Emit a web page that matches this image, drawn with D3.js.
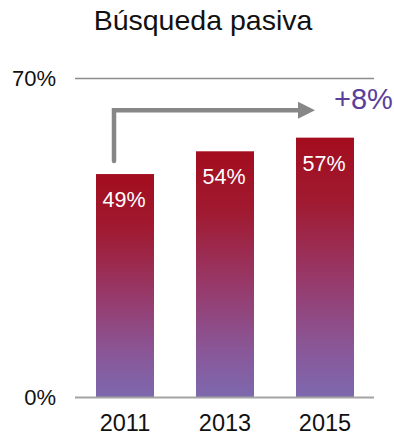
<!DOCTYPE html>
<html>
<head>
<meta charset="utf-8">
<script src="https://cdn.jsdelivr.net/npm/d3@7"></script>
<style>
  html, body { margin: 0; padding: 0; background: #fff; }
  svg { display: block; font-family: "Liberation Sans", Arial, sans-serif; }
</style>
</head>
<body>
<svg id="chart" width="394" height="437"></svg>
<script>
// Passive job search share by survey year
const years = ["2011", "2013", "2015"];
const values = [49, 54, 57];
const yTicks = [0, 70];
const title = "Búsqueda pasiva";

const svg = d3.select("#chart");

const x = d3.scaleBand()
  .domain(years)
  .range([75, 375])
  .paddingInner(0.42)
  .paddingOuter(0.21);

const y = d3.scaleLinear()
  .domain([0, 70])
  .range([397, 78.5]);

// Vertical red-to-purple fill for the bars
const defs = svg.append("defs");
const grad = defs.append("linearGradient")
  .attr("id", "barFill")
  .attr("x1", 0).attr("y1", 0).attr("x2", 0).attr("y2", 1);
[
  [0, "#a30d1e"],
  [0.25, "#a01a31"],
  [0.55, "#973a6b"],
  [0.8, "#8a5696"],
  [1, "#7d68ae"]
].forEach(([o, c]) => grad.append("stop").attr("offset", o).attr("stop-color", c));

// Title
svg.append("text")
  .attr("x", 203)
  .attr("y", 30)
  .attr("text-anchor", "middle")
  .attr("font-size", 28.5)
  .attr("fill", "#111")
  .text(title);

// Gridline at the top tick
svg.append("line")
  .attr("x1", 75).attr("x2", 374)
  .attr("y1", y(70)).attr("y2", y(70))
  .attr("stroke", "#8c8c8c")
  .attr("stroke-width", 1.5);

// Y tick labels
svg.selectAll("text.ytick")
  .data(yTicks)
  .join("text")
  .attr("class", "ytick")
  .attr("x", 56)
  .attr("y", d => y(d))
  .attr("dy", "0.36em")
  .attr("text-anchor", "end")
  .attr("font-size", 22)
  .attr("fill", "#111")
  .text(d => d + "%");

// Bars
svg.selectAll("rect.bar")
  .data(values)
  .join("rect")
  .attr("class", "bar")
  .attr("x", (d, i) => x(years[i]))
  .attr("width", x.bandwidth())
  .attr("y", d => y(d))
  .attr("height", d => y(0) - y(d))
  .attr("fill", "url(#barFill)");

// Baseline at zero
svg.append("line")
  .attr("x1", 75).attr("x2", 374)
  .attr("y1", y(0) + 0.5).attr("y2", y(0) + 0.5)
  .attr("stroke", "#a3a3a3")
  .attr("stroke-width", 2);

// Value labels inside bars
svg.selectAll("text.val")
  .data(values)
  .join("text")
  .attr("class", "val")
  .attr("x", (d, i) => x(years[i]) + x.bandwidth() / 2 - 1)
  .attr("y", d => y(d) + 33)
  .attr("text-anchor", "middle")
  .attr("font-size", 21.5)
  .attr("fill", "#fff")
  .text(d => d + "%");

// Year labels
svg.selectAll("text.year")
  .data(years)
  .join("text")
  .attr("class", "year")
  .attr("x", d => x(d) + x.bandwidth() / 2)
  .attr("y", 431)
  .attr("text-anchor", "middle")
  .attr("font-size", 23.5)
  .attr("fill", "#111")
  .text(d => d);

// Growth arrow from the first to the last year
const first = values[0], last = values[values.length - 1];
const ax = x(years[0]) + 18;
const ay0 = y(first) - 13;
const ay1 = y(63);
const tipX = x(years[years.length - 1]) + 19;
const headLen = 17, headHalf = 8.5;

svg.append("path")
  .attr("d", `M${ax},${ay0}V${ay1}H${tipX - headLen + 1}`)
  .attr("fill", "none")
  .attr("stroke", "#878787")
  .attr("stroke-width", 4.5)
  .attr("stroke-linecap", "round")
  .attr("stroke-linejoin", "miter");

svg.append("path")
  .attr("d", `M${tipX - headLen},${ay1 - headHalf}L${tipX},${ay1}L${tipX - headLen},${ay1 + headHalf}Z`)
  .attr("fill", "#878787");

svg.append("text")
  .attr("x", 334)
  .attr("y", 109)
  .attr("font-size", 29)
  .attr("fill", "#5a3f98")
  .text("+" + (last - first) + "%");
</script>
</body>
</html>
